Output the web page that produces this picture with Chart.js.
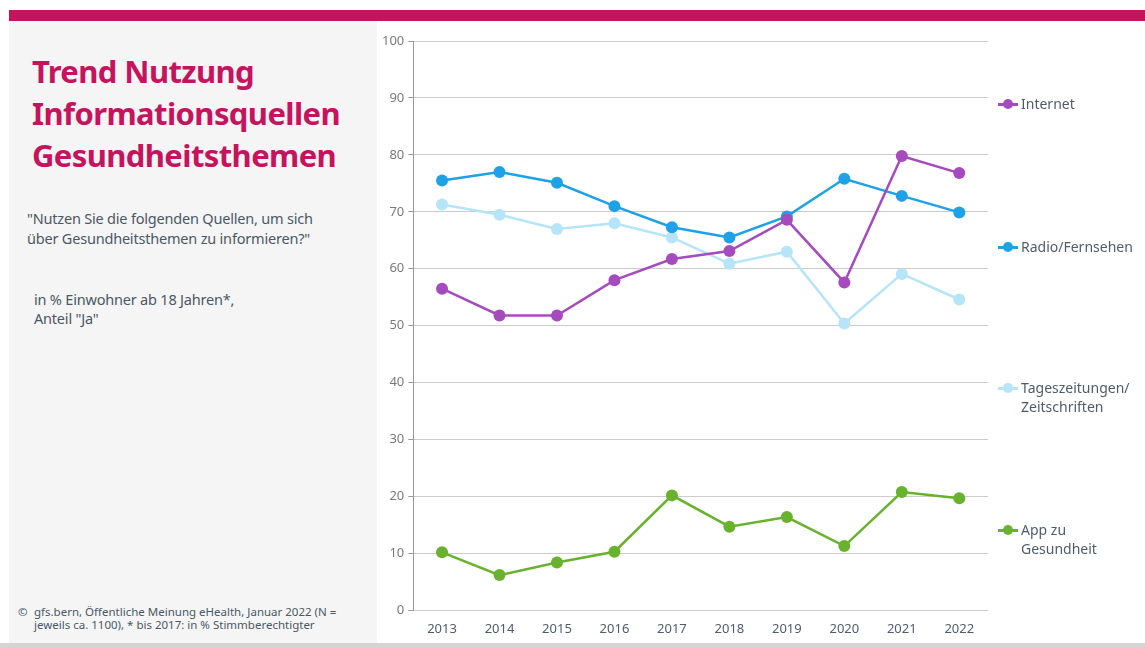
<!DOCTYPE html>
<html>
<head>
<meta charset="utf-8">
<script src="https://cdn.jsdelivr.net/npm/chart.js@4.4.1/dist/chart.umd.min.js"></script>
<style>
  body { margin: 0; width: 1145px; height: 648px; background: #fff; position: relative; overflow: hidden; font-family: "Noto Sans", sans-serif; }
  .topbar { position: absolute; left: 9px; top: 10px; width: 1136px; height: 11px; background: #c6135e; }
  .side { position: absolute; left: 9px; top: 21px; width: 368px; height: 622px; background: #f5f5f5; }
  .bottombar { position: absolute; left: 0; top: 643px; width: 1145px; height: 5px; background: #d4d4d4; }
  h1 { position: absolute; left: 32px; top: 50px; margin: 0; font-size: 31px; line-height: 42px; color: #c6135e; font-weight: 700; letter-spacing: -0.6px; }
  .q { position: absolute; left: 27px; top: 208px; font-size: 14.5px; line-height: 20px; color: #4a5866; letter-spacing: -0.2px; }
  .unit { position: absolute; left: 34px; top: 290px; font-size: 14.5px; line-height: 19px; color: #4a5866; letter-spacing: -0.2px; }
  .src { position: absolute; left: 18px; top: 605px; font-size: 11.5px; line-height: 13px; color: #4a5866; }
  .src span { position: absolute; left: 16px; top: 0; white-space: nowrap; }
  #wrap { position: absolute; left: 378px; top: 21px; width: 767px; height: 622px; }
  .lg { position: absolute; left: 998px; font-size: 14px; line-height: 19px; color: #4f5d6b; }
  .lg i { position: absolute; left: 0; top: 9px; width: 20px; height: 2.5px; }
  .lg b { position: absolute; left: 5px; top: 5px; width: 10px; height: 10px; border-radius: 50%; }
  .lg span { position: absolute; left: 23px; top: 0; white-space: nowrap; }
</style>
</head>
<body>
<div class="topbar"></div>
<div class="side"></div>
<div class="bottombar"></div>
<h1>Trend Nutzung<br>Informationsquellen<br>Gesundheitsthemen</h1>
<div class="q">"Nutzen Sie die folgenden Quellen, um sich<br>über Gesundheitsthemen zu informieren?"</div>
<div class="unit">in % Einwohner ab 18 Jahren*,<br>Anteil "Ja"</div>
<div class="src">©<span>gfs.bern, Öffentliche Meinung eHealth, Januar 2022 (N =<br>jeweils ca. 1100), * bis 2017: in % Stimmberechtigter</span></div>
<div id="wrap"><canvas id="chart"></canvas></div>
<div id="legend"></div>
<script>
const years = ['2013', '2014', '2015', '2016', '2017', '2018', '2019', '2020', '2021', '2022'];
const internet = [56.5, 51.8, 51.8, 58.0, 61.7, 63.1, 68.6, 57.6, 79.8, 76.8];
const radioTv = [75.5, 77.0, 75.1, 71.0, 67.3, 65.5, 69.2, 75.8, 72.8, 69.9];
const zeitungen = [71.3, 69.5, 67.0, 68.0, 65.5, 60.9, 63.0, 50.4, 59.1, 54.6];
const appGesundheit = [10.2, 6.2, 8.4, 10.3, 20.2, 14.7, 16.4, 11.3, 20.8, 19.7];

const seriesNames = ['Internet', 'Radio/Fernsehen', 'Tageszeitungen/\nZeitschriften', 'App zu\nGesundheit'];
const seriesColors = ['#a64bbe', '#1ea1e6', '#b6e4f9', '#68b22d'];
const seriesData = [internet, radioTv, zeitungen, appGesundheit];
const legendTop = [94, 237, 378, 520];

const ctx = document.getElementById('chart');

new Chart(ctx, {
    type: 'line',
    data: {
        labels: years,
        datasets: seriesData.map((d, i) => ({
            label: seriesNames[i],
            data: d,
            borderColor: seriesColors[i],
            backgroundColor: seriesColors[i],
            borderWidth: 2.5,
            pointRadius: 6,
            pointHoverRadius: 6,
            pointBorderWidth: 0,
            tension: 0
        }))
    },
    options: {
        responsive: true,
        maintainAspectRatio: false,
        animation: false,
        layout: { padding: { top: 20, right: 157, bottom: 3, left: 0 } },
        plugins: { legend: { display: false }, tooltip: { enabled: false } },
        scales: {
            x: {
                offset: true,
                grid: { display: false },
                border: { display: false },
                ticks: { color: '#4f5d6b', font: { family: 'Noto Sans', size: 13 }, padding: 3 }
            },
            y: {
                min: 0,
                max: 100,
                ticks: { stepSize: 10, color: '#7a7a7a', font: { family: 'Noto Sans', size: 13 }, padding: 4 },
                grid: { color: '#cccccc', lineWidth: 1, tickLength: 5, tickColor: '#999' },
                border: { display: true, color: '#999999', width: 1 }
            }
        }
    }
});

// Legende rechts neben dem Diagramm
const lg = document.getElementById('legend');
seriesNames.forEach((name, i) => {
    const el = document.createElement('div');
    el.className = 'lg';
    el.style.top = legendTop[i] + 'px';
    el.innerHTML = '<i style="background:' + seriesColors[i] + '"></i><b style="background:' + seriesColors[i] + '"></b><span>' + name.replace('\n', '<br>') + '</span>';
    lg.appendChild(el);
});
</script>
</body>
</html>
